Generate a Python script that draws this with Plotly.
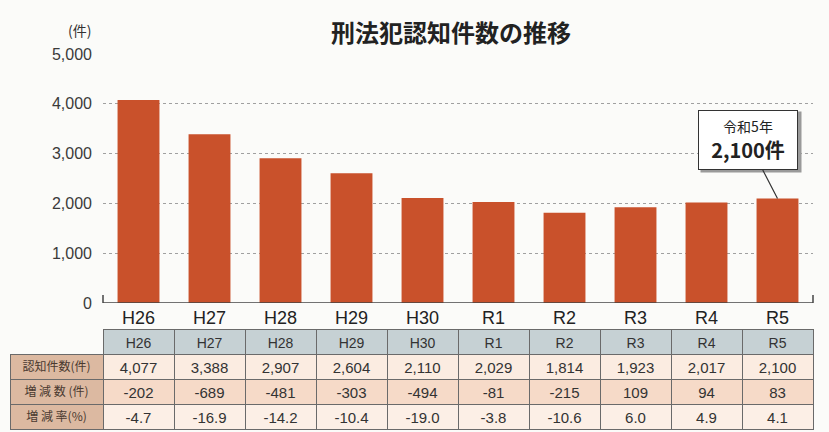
import plotly.graph_objects as go

years = ["H26", "H27", "H28", "H29", "H30", "R1", "R2", "R3", "R4", "R5"]
counts = [4077, 3388, 2907, 2604, 2110, 2029, 1814, 1923, 2017, 2100]
changes = ["-202", "-689", "-481", "-303", "-494", "-81", "-215", "109", "94", "83"]
rates = ["-4.7", "-16.9", "-14.2", "-10.4", "-19.0", "-3.8", "-10.6", "6.0", "4.9", "4.1"]
row_labels = ["認知件数(件)", "増 減 数 (件)", "増 減 率(%)"]
y_ticks = [0, 1000, 2000, 3000, 4000, 5000]
title = "刑法犯認知件数の推移"
callout_year = "令和5年"
callout_value = "2,100件"

W, H = 829, 432
FONT = "Liberation Sans, Noto Sans CJK JP, sans-serif"
JFONT = "Noto Sans CJK JP, sans-serif"
BAR = "#c9512b"

fig = go.Figure()
fig.add_trace(go.Bar(x=years, y=counts, marker=dict(color=BAR, line=dict(width=0)),
                     hoverinfo="x+y", showlegend=False))

# table
count_txt = [f"{v:,}" for v in counts]
cols = [row_labels] + [[count_txt[i], changes[i], rates[i]] for i in range(len(years))]
row_fill = ["#fbece1", "#f6dac8", "#fcefe6"]
cell_fill = [["#dcb9a1"] * 3] + [row_fill for _ in years]
header_fill = ["rgba(0,0,0,0)"] + ["#c6d1d4"] * len(years)
header_line = ["rgba(0,0,0,0)"] + ["#6a6a6a"] * len(years)
fig.add_trace(go.Table(
    domain=dict(x=[10 / W, 813 / W], y=[1 - 431 / H, 1 - 329 / H]),
    columnwidth=[93] + [71] * len(years),
    header=dict(values=[""] + years, fill_color=header_fill, line=dict(color=header_line, width=1),
                align="center", height=25, font=dict(family=FONT, size=14, color="#333")),
    cells=dict(values=cols, fill_color=cell_fill, line=dict(color="#6a6a6a", width=1),
               align="center", height=25,
               font=dict(family=[JFONT] + [FONT] * len(years), size=[12] + [15] * len(years),
                         color=["#4a3a30"] + ["#333"] * len(years))),
))

fig.update_layout(
    width=W, height=H,
    margin=dict(l=0, r=0, t=0, b=0, autoexpand=False),
    paper_bgcolor="#fbfbf9", plot_bgcolor="rgba(0,0,0,0)",
    bargap=0.41,
    xaxis=dict(domain=[103 / W, 813 / W], type="category", showgrid=False, showline=False,
               automargin=False, ticks="", ticklabelstandoff=2,
               tickfont=dict(family=FONT, size=18, color="#222")),
    yaxis=dict(domain=[1 - 303 / H, 1 - 54 / H], range=[0, 5000], tickvals=y_ticks,
               automargin=False,
               tickformat=",d", showgrid=True, gridcolor="#a0a0a0", griddash="dot", gridwidth=1,
               zeroline=False, showline=False, ticks="", ticklabelstandoff=10,
               tickfont=dict(family=FONT, size=16, color="#3a3a3a")),
    font=dict(family=FONT),
)

# baseline with small end ticks
fig.add_shape(type="line", xref="x domain", yref="y", x0=0, x1=1, y0=0, y1=0,
              line=dict(color="#444", width=1.5), layer="above")
for xd in (0, 1):
    fig.add_shape(type="line", xref="x domain", yref="y", x0=xd, x1=xd, y0=0, y1=160,
                  line=dict(color="#444", width=1.5), layer="above")

# title and unit
fig.add_annotation(text=f"<b>{title}</b>", xref="paper", yref="paper", x=451 / W, y=1 - 12 / H,
                   showarrow=False, font=dict(family=JFONT, size=24, color="#222"))
fig.add_annotation(text="(件)", xref="paper", yref="paper", x=66 / W, y=1 - 18 / H,
                   showarrow=False, font=dict(family=JFONT, size=14, color="#333"))

# callout shadow
fig.add_annotation(text=" ", x="R5", y=2100, showarrow=False, xshift=-27, yshift=56,
                   width=100, height=60, bgcolor="#9a9a9a", borderpad=0)
# callout
fig.add_annotation(text=f"<span style='font-size:14px'>{callout_year}</span><br><b>{callout_value}</b>",
                   x="R5", y=2100, ax=-30, ay=-58, axref="pixel", ayref="pixel",
                   showarrow=True, arrowhead=0, arrowwidth=1.2, arrowcolor="#333", standoff=0,
                   width=98, height=58, bgcolor="white", bordercolor="#333", borderwidth=1,
                   borderpad=0, font=dict(family=JFONT, size=20, color="#222"))

fig.write_html("out.html", config={"displayModeBar": False},
               post_script="document.body.style.margin='0';document.body.style.overflow='hidden';")
